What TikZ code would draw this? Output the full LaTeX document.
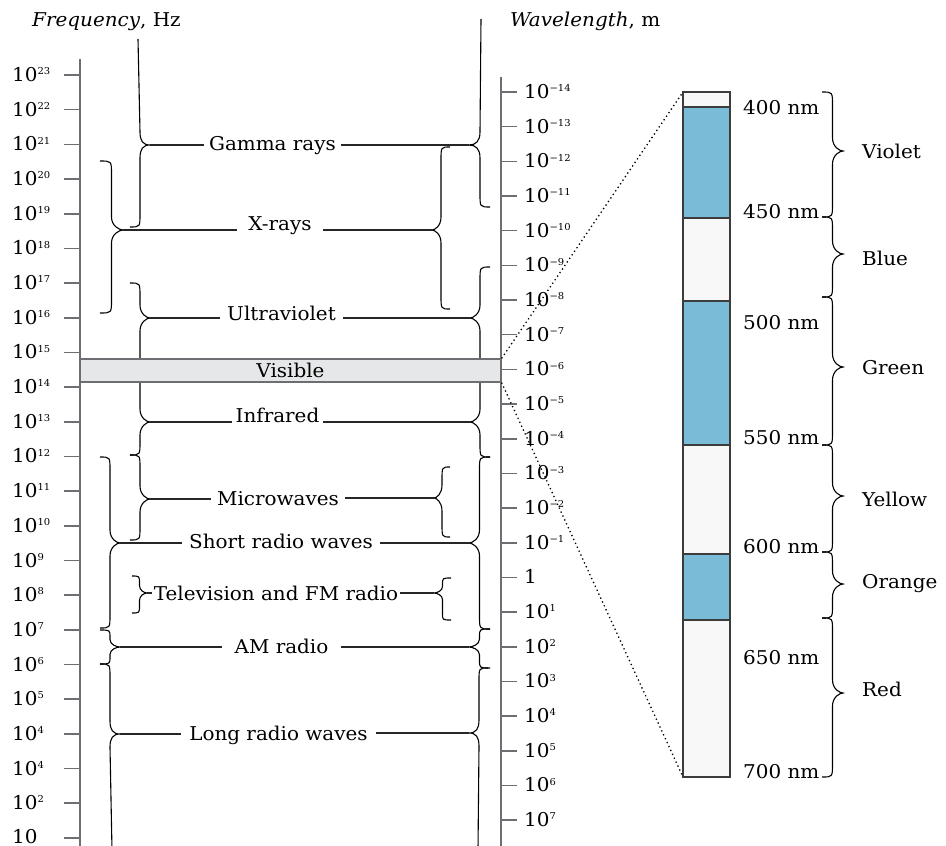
\documentclass[tikz,border=0pt]{standalone}
\usepackage{fontspec}
\setmainfont{DejaVu Serif}[FakeStretch=1.05]
\usetikzlibrary{calc}
\definecolor{axisgray}{HTML}{6D6E71}
\definecolor{bandfill}{HTML}{E6E7E8}
\definecolor{barblue}{HTML}{7ABBD7}
\definecolor{barwhite}{HTML}{F8F8F8}
\definecolor{barline}{HTML}{3C3C3C}
\newcommand\expo[1]{\raisebox{6.8pt}{\fontsize{9.5}{10}\selectfont #1}}
\newcommand\cbr[6]{%
  \pgfmathsetmacro\brX{(#2+#3)/2}%
  \pgfmathsetmacro\brR{min(13,(#5-#4)/2.3,(#6-#5)/2.3)}%
  \draw[brc] (#2,#4) .. controls (\brX,#4) and (\brX,#4) .. (\brX,#4+\brR) -- (\brX,#5-\brR)
     .. controls (\brX,#5-0.3*\brR) and (#3-0.3*#3+0.3*\brX,#5) .. (#3,#5)
     .. controls (#3-0.3*#3+0.3*\brX,#5) and (\brX,#5+0.3*\brR) .. (\brX,#5+\brR)
     -- (\brX,#6-\brR) .. controls (\brX,#6) and (\brX,#6) .. (#2,#6);
  \coordinate (#1) at (#3,#5);}
\begin{document}
\begin{tikzpicture}[x=1pt,y=-1pt,
  every node/.style={font=\fontsize{19}{22}\selectfont},
  brc/.style={black, line width=1.1pt},
  ldr/.style={black!85, line width=1.1pt},
  axisline/.style={axisgray, line width=1.8pt},
  tickline/.style={axisgray, line width=1.6pt},
  tlab/.style={anchor=base west, inner sep=0pt},
  lbl/.style={anchor=base, inner ysep=0pt, inner xsep=5pt},
  dotline/.style={black, line width=1.3pt, dash pattern=on 1.3pt off 3pt},
  barseg/.style={draw=barline, line width=1.2pt}]
\useasboundingbox (0,0) rectangle (946,846);
% headings
\node[tlab] (fhead) at (32,26) {\textit{Frequency}, Hz};
\node[tlab] (whead) at (510,26) {\textit{Wavelength}, m};
% axes
\draw[axisline] (80,59) -- (80,850);
\draw[axisline] (501,77) -- (501,850);
% left ticks
\foreach \lab [count=\k from 0] in {{10\expo{23}},{10\expo{22}},{10\expo{21}},{10\expo{20}},{10\expo{19}},{10\expo{18}},{10\expo{17}},{10\expo{16}},{10\expo{15}},{10\expo{14}},{10\expo{13}},{10\expo{12}},{10\expo{11}},{10\expo{10}},{10\expo{9}},{10\expo{8}},{10\expo{7}},{10\expo{6}},{10\expo{5}},{10\expo{4}},{10\expo{4}},{10\expo{2}}} {
  \draw[tickline] (64,{75+\k*34.68}) -- (79,{75+\k*34.68});
  \node[tlab] (fq\k) at (12,{81.5+\k*34.68}) {\lab};
}
\draw[tickline] (64,838) -- (79,838);
\node[tlab] (fq22) at (12,843.5) {10};
% right ticks
\foreach \lab [count=\k from 0] in {{10\expo{−14}},{10\expo{−13}},{10\expo{−12}},{10\expo{−11}},{10\expo{−10}},{10\expo{−9}},{10\expo{−8}},{10\expo{−7}},{10\expo{−6}},{10\expo{−5}},{10\expo{−4}},{10\expo{−3}},{10\expo{−2}},{10\expo{−1}},{1},{10\expo{1}},{10\expo{2}},{10\expo{3}},{10\expo{4}},{10\expo{5}},{10\expo{6}},{10\expo{7}}} {
  \draw[tickline] (502,{92+\k*34.67}) -- (517,{92+\k*34.67});
  \node[tlab] (wl\k) at (524,{98.5+\k*34.67}) {\lab};
}
% braces left
\draw[brc] (138,39) -- (140,132) .. controls (140,141) and (143,145) .. (150,145) .. controls (143,145) and (140,149) .. (140,158) -- (140,214) .. controls (140,227) and (140,227) .. (130,227);
\coordinate (gL) at (150,145);
\cbr{xL}{100}{123}{161}{230}{313}
\cbr{uL}{130}{150}{283}{318}{371}
\cbr{iL}{130}{150}{371}{422}{455}
\cbr{mL}{130}{150}{455}{499}{540}
\cbr{sL}{100}{120}{457}{543}{628}
\cbr{tL}{132}{147}{576}{593}{613}
\cbr{aL}{100}{120}{630}{647}{664}
\draw[brc] (100,664) .. controls (110,664) and (110,664) .. (110,677) -- (110,721) .. controls (110,730) and (113,734) .. (120,734) .. controls (113,734) and (110,738) .. (110,747) -- (112,850);
\coordinate (lL) at (120,734);
% braces right
\draw[brc] (481,19) -- (480,132) .. controls (480,141) and (476,145) .. (469,145) .. controls (476,145) and (480,149) .. (480,158) -- (480,194) .. controls (480,207) and (480,207) .. (490,207);
\coordinate (gR) at (469,145);
\cbr{xR}{450}{432}{147}{230}{309}
\cbr{uR}{490}{470}{267}{318}{371}
\cbr{iR}{490}{470}{371}{422}{457}
\cbr{sR}{490}{469}{457}{543}{629}
\cbr{mR}{450}{434}{467}{498}{537}
\cbr{tR}{451}{434}{578}{593}{620}
\cbr{aR}{490}{469}{629}{647}{668}
\draw[brc] (488,668) .. controls (479,668) and (479,668) .. (479,681) -- (479,720) .. controls (479,729) and (476,733) .. (469,733) .. controls (476,733) and (479,737) .. (479,746) -- (478,850);
\coordinate (lR) at (469,733);
% labels
\node[lbl] (gam) at (272.5,150) {Gamma rays};
\node[lbl, inner xsep=11pt] (xra) at (280,230) {X-rays};
\node[lbl, inner xsep=7pt] (uvi) at (281.5,320) {Ultraviolet};
\node[lbl, inner xsep=3pt] (ire) at (277.5,422) {Infrared};
\node[lbl, inner xsep=6pt] (mwv) at (278,505) {Microwaves};
\node[lbl, inner xsep=7pt] (srw) at (281,548) {Short radio waves};
\node[lbl, inner xsep=2pt] (tvf) at (276,600) {Television and FM radio};
\node[lbl, inner xsep=12pt] (amr) at (281.5,653) {AM radio};
\node[lbl, inner xsep=8pt] (lrw) at (278.5,740) {Long radio waves};
% leaders
\foreach \n/\l/\r in {gam/gL/gR, xra/xL/xR, uvi/uL/uR, ire/iL/iR, mwv/mL/mR, srw/sL/sR, tvf/tL/tR, amr/aL/aR, lrw/lL/lR} {
  \draw[ldr] (\l) -- (\l -| \n.west);
  \draw[ldr] (\n.east |- \r) -- (\r);
}
% visible band
\node[draw=axisgray, fill=bandfill, line width=1.2pt, minimum width=421pt, minimum height=23pt, inner sep=0pt] (vis) at (290.5,370.5) {Visible};
% colour bar
\foreach \a/\b/\c in {92/107/barwhite,107/218/barblue,218/301/barwhite,301/445/barblue,445/554/barwhite,554/620/barblue,620/777/barwhite}
  \draw[barseg, fill=\c] (683,\a) rectangle (730,\b);
\coordinate (barTL) at (683,92);
\coordinate (barBL) at (683,777);
\draw[dotline] (vis.north east) -- (barTL);
\draw[dotline] (vis.south east) -- (barBL);
% nm labels
\node[tlab] (nm400) at (743,114) {400 nm};
\node[tlab] (nm450) at (743,218) {450 nm};
\node[tlab] (nm500) at (743,329) {500 nm};
\node[tlab] (nm550) at (743,444) {550 nm};
\node[tlab] (nm600) at (743,553) {600 nm};
\node[tlab] (nm650) at (743,664) {650 nm};
\node[tlab] (nm700) at (743,778) {700 nm};
% colour braces
\cbr{cv}{822}{843}{92}{151}{217}
\cbr{cb}{822}{843}{217}{254}{297}
\cbr{cg}{822}{843}{297}{367}{445}
\cbr{cy}{822}{843}{445}{496}{552}
\cbr{co}{822}{843}{552}{584}{618}
\cbr{cr}{822}{843}{618}{693}{777}
\node[tlab] (violet) at (862,158) {Violet};
\node[tlab] (blue) at (862,265) {Blue};
\node[tlab] (green) at (862,374) {Green};
\node[tlab] (yellow) at (862,506) {Yellow};
\node[tlab] (orange) at (862,588) {Orange};
\node[tlab] (red) at (862,696) {Red};
\end{tikzpicture}
\end{document}
